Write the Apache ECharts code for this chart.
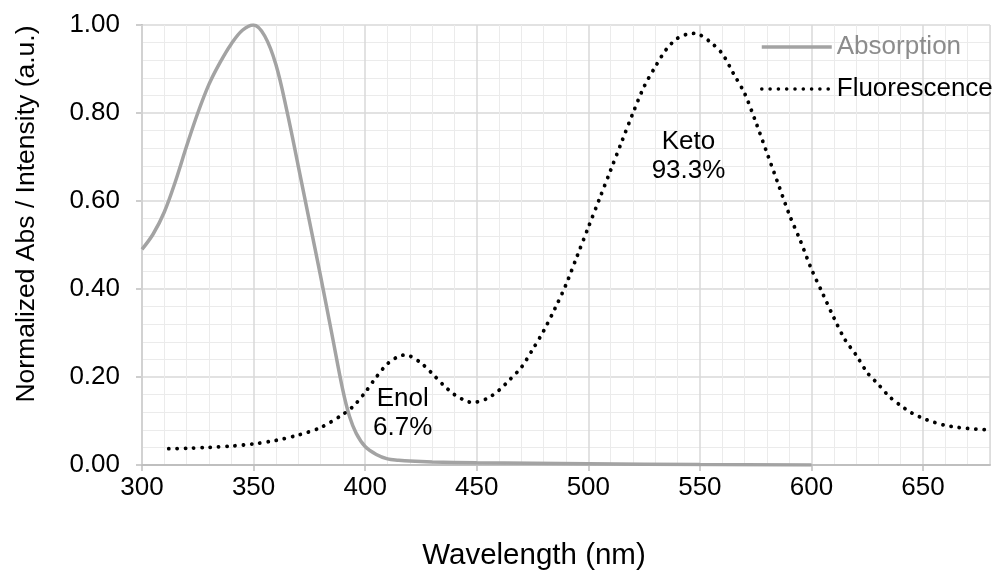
<!DOCTYPE html>
<html>
<head>
<meta charset="utf-8">
<script src="https://cdn.jsdelivr.net/npm/echarts@6/dist/echarts.min.js"></script>
<style>
html,body{margin:0;padding:0;background:#fff;}
#chart{width:997px;height:576px;}
</style>
</head>
<body>
<div id="chart"></div>
<script>
// Absorption spectrum (wavelength nm, normalized value)
const absWavelength = [300,305,310,315,320,325,330,335,340,345,350,355,360,365,370,375,380,385,390,393,396,400,405,410,415,420,430,450,500,550,600];
const absValue      = [0.49,0.525,0.575,0.645,0.725,0.80,0.865,0.915,0.957,0.988,1.0,0.975,0.91,0.803,0.68,0.555,0.43,0.30,0.17,0.11,0.072,0.042,0.024,0.014,0.011,0.009,0.007,0.005,0.003,0.001,0.0];

// Fluorescence spectrum
const fluWavelength = [312,320,330,340,350,360,370,380,390,395,400,405,410,415,418,420,425,430,435,440,445,448,450,455,460,465,470,475,480,485,490,495,500,505,510,515,520,525,530,535,540,545,548,550,555,560,565,570,575,580,585,590,595,600,605,610,615,620,625,630,635,640,645,650,655,660,665,670,678];
const fluValue      = [0.037,0.038,0.040,0.043,0.048,0.056,0.068,0.085,0.115,0.135,0.165,0.200,0.230,0.247,0.250,0.248,0.232,0.208,0.182,0.160,0.146,0.142,0.143,0.152,0.170,0.195,0.222,0.262,0.305,0.355,0.410,0.475,0.540,0.605,0.670,0.735,0.800,0.860,0.905,0.945,0.970,0.980,0.981,0.978,0.960,0.935,0.890,0.845,0.780,0.710,0.640,0.570,0.510,0.445,0.390,0.335,0.285,0.250,0.210,0.183,0.155,0.135,0.118,0.106,0.097,0.090,0.086,0.083,0.080];

// Annotations (data coordinates)
const annoX = [416.8, 544.9];
const annoY = [0.117, 0.702];
const annoText = ['Enol\n6.7%', 'Keto\n93.3%'];

const seriesNames = ['Absorption', 'Fluorescence'];
const xTickLabels = [300,350,400,450,500,550,600,650];

const FONT = '"Liberation Sans", Arial, sans-serif';
const chart = echarts.init(document.getElementById('chart'), null, {renderer:'canvas'});

const zip = (a, b) => a.map((v, i) => [v, b[i]]);

chart.setOption({
  animation: false,
  backgroundColor: '#fff',
  grid: {left: 142, right: 7, top: 25, bottom: 108, containLabel: false},
  legend: {
    orient: 'vertical',
    left: 755,
    top: 27,
    itemWidth: 70,
    itemHeight: 20,
    itemGap: 12,
    itemStyle: {opacity: 0},
    lineStyle: {width: 3.5},
    textStyle: {fontFamily: FONT, fontSize: 26, lineHeight: 30},
    data: [
      {name: seriesNames[0], textStyle: {color: '#8c8c8c'}},
      {name: seriesNames[1], textStyle: {color: '#000'}}
    ]
  },
  xAxis: [
    {
      type: 'value', min: 300, max: 680, interval: 50,
      name: 'Wavelength (nm)', nameLocation: 'middle', nameGap: 76,
      nameTextStyle: {fontFamily: FONT, fontSize: 29.5, color: '#000', padding: [0, 64, 0, 0]},
      axisLine: {show: true, lineStyle: {color: '#bfbfbf', width: 2}},
      axisTick: {show: true, length: 6, lineStyle: {color: '#bfbfbf', width: 1.5}},
      axisLabel: {
        fontFamily: FONT, fontSize: 26, color: '#000', margin: 10, showMaxLabel: false,
        formatter: v => (xTickLabels.indexOf(v) >= 0 ? String(v) : '')
      },
      splitLine: {show: true, lineStyle: {color: '#d9d9d9', width: 1.5}},
      z: 2
    },
    {
      type: 'value', min: 300, max: 680, interval: 10, position: 'bottom',
      axisLine: {show: false}, axisTick: {show: false}, axisLabel: {show: false},
      splitLine: {show: true, lineStyle: {color: ['rgba(0,0,0,0)', '#ebebeb', '#ebebeb', '#ebebeb', '#ebebeb'], width: 1}},
      z: 1
    }
  ],
  yAxis: {
    type: 'value', min: 0, max: 1, interval: 0.2,
    name: 'Normalized Abs / Intensity (a.u.)', nameLocation: 'middle', nameGap: 102,
    nameTextStyle: {fontFamily: FONT, fontSize: 26.5, color: '#000', padding: [0, 0, 0, 62]},
    axisLine: {show: true, lineStyle: {color: '#bfbfbf', width: 2}},
    axisTick: {show: true, length: 6, lineStyle: {color: '#bfbfbf', width: 1.5}},
    axisLabel: {fontFamily: FONT, fontSize: 26, color: '#000', margin: 22, formatter: v => v.toFixed(2)},
    splitLine: {show: true, lineStyle: {color: '#d9d9d9', width: 1.5}},
    minorTick: {show: false, splitNumber: 5},
    minorSplitLine: {show: true, lineStyle: {color: '#ebebeb', width: 1}}
  },
  series: [
    {
      name: seriesNames[0], type: 'line', xAxisIndex: 0,
      data: zip(absWavelength, absValue),
      smooth: 0.35, symbol: 'none',
      lineStyle: {color: '#a3a3a3', width: 3.5},
      itemStyle: {color: '#a3a3a3'},
      z: 3
    },
    {
      name: seriesNames[1], type: 'line', xAxisIndex: 0,
      data: zip(fluWavelength, fluValue),
      smooth: 0.3, symbol: 'none',
      lineStyle: {color: '#000', width: 3.8, type: [0.1, 8.2], cap: 'round'},
      itemStyle: {color: '#000'},
      z: 4
    },
    {
      name: 'annotations', type: 'scatter', xAxisIndex: 0,
      data: annoX.map((x, i) => ({value: [x, annoY[i]], label: {formatter: annoText[i]}})),
      symbolSize: 0,
      silent: true,
      itemStyle: {opacity: 1, color: '#000'},
      label: {show: true, position: 'inside', fontFamily: FONT, fontSize: 26, color: '#000', lineHeight: 29, align: 'center'},
      z: 5
    }
  ]
});
</script>
</body>
</html>
